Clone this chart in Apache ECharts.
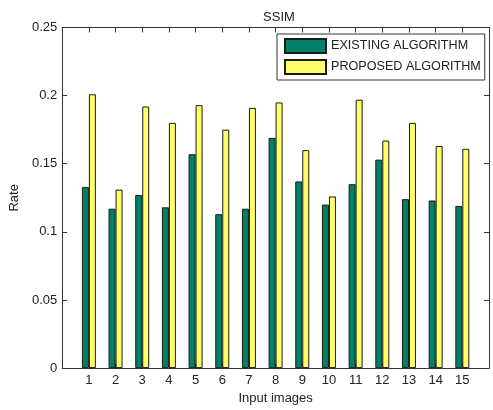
<!DOCTYPE html>
<html>
<head>
<meta charset="utf-8">
<title>SSIM</title>
<script src="https://cdn.jsdelivr.net/npm/echarts@6/dist/echarts.min.js"></script>
<style>
	html, body { margin: 0; padding: 0; background: #fff; }
	#chart { width: 493px; height: 410px; }
</style>
</head>
<body>
<div id="chart"></div>
<script>
var categories = ['1', '2', '3', '4', '5', '6', '7', '8', '9', '10', '11', '12', '13', '14', '15'];
var existingValues = [0.133, 0.117, 0.127, 0.118, 0.157, 0.113, 0.117, 0.169, 0.137, 0.120, 0.135, 0.153, 0.124, 0.123, 0.119];
var proposedValues = [0.201, 0.131, 0.192, 0.180, 0.193, 0.175, 0.191, 0.195, 0.160, 0.126, 0.197, 0.167, 0.180, 0.163, 0.161];
var yTicks = [0, 0.05, 0.1, 0.15, 0.2, 0.25];

var fontName = 'Liberation Sans, Arial, sans-serif';
var axisColor = '#333';

function toPoints(values){
	var out = [];
	for (var i = 0; i < values.length; i++) {
		out.push([i + 1, values[i]]);
	}
	return out;
}

function xLabel(v){
	var idx = Math.round(v) - 1;
	return categories[idx] !== undefined ? categories[idx] : '';
}

var tickIn = { show: true, inside: true, length: 5, lineStyle: { color: axisColor } };
var lineBox = { show: true, onZero: false, lineStyle: { color: axisColor } };

var option = {
	animation: false,
	backgroundColor: '#fff',
	title: {
		text: 'SSIM',
		left: 274,
		textAlign: 'center',
		top: 6,
		textStyle: { fontFamily: fontName, fontSize: 13, fontWeight: 'normal', color: '#222' }
	},
	legend: {
		orient: 'vertical',
		left: 277,
		top: 34,
		padding: [4, 4, 5, 7],
		itemGap: 5,
		itemWidth: 41,
		itemHeight: 14,
		icon: 'rect',
		backgroundColor: '#fff',
		borderColor: axisColor,
		borderWidth: 1,
		borderRadius: 0,
		textStyle: { fontFamily: fontName, fontSize: 12.6, color: '#222' },
		data: ['EXISTING ALGORITHM', 'PROPOSED ALGORITHM']
	},
	grid: { left: 58, right: 4, top: 27.5, bottom: 38 },
	xAxis: [{
		type: 'value',
		min: 0,
		max: 16,
		interval: 1,
		name: 'Input images',
		nameLocation: 'middle',
		nameGap: 22,
		nameTextStyle: { fontFamily: fontName, fontSize: 13, color: '#222' },
		axisLine: lineBox,
		axisTick: tickIn,
		axisLabel: { fontFamily: fontName, fontSize: 13, color: '#222', margin: 6, formatter: xLabel },
		splitLine: { show: false }
	}, {
		type: 'value',
		position: 'top',
		min: 0,
		max: 16,
		interval: 1,
		axisLine: lineBox,
		axisTick: tickIn,
		axisLabel: { show: false },
		splitLine: { show: false }
	}],
	yAxis: [{
		type: 'value',
		min: yTicks[0],
		max: yTicks[yTicks.length - 1],
		interval: 0.05,
		name: 'Rate',
		nameLocation: 'middle',
		nameRotate: 90,
		nameGap: 37,
		nameTextStyle: { fontFamily: fontName, fontSize: 13, color: '#222' },
		axisLine: lineBox,
		axisTick: tickIn,
		axisLabel: { fontFamily: fontName, fontSize: 13, color: '#222', margin: 5,
			formatter: function(v){ return String(parseFloat(v.toFixed(2))); } },
		splitLine: { show: false }
	}, {
		type: 'value',
		position: 'right',
		min: yTicks[0],
		max: yTicks[yTicks.length - 1],
		interval: 0.05,
		axisLine: lineBox,
		axisTick: tickIn,
		axisLabel: { show: false },
		splitLine: { show: false }
	}],
	series: [{
		name: 'EXISTING ALGORITHM',
		type: 'bar',
		barWidth: 7,
		barGap: '0%',
		itemStyle: { color: '#008066', borderColor: '#1a1a1a', borderWidth: 1 },
		data: toPoints(existingValues)
	}, {
		name: 'PROPOSED ALGORITHM',
		type: 'bar',
		barWidth: 7,
		barGap: '0%',
		itemStyle: { color: '#ffff66', borderColor: '#1a1a1a', borderWidth: 1 },
		data: toPoints(proposedValues)
	}]
};

var myChart = echarts.init(document.getElementById('chart'));
myChart.setOption(option);
</script>
</body>
</html>
